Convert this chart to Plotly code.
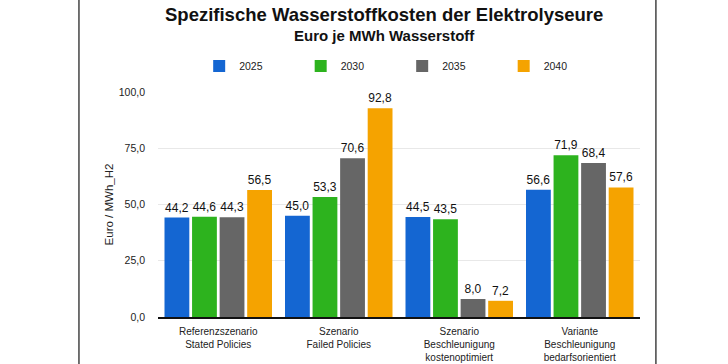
import plotly.graph_objects as go

categories = ["Referenzszenario<br>Stated Policies", "Szenario<br>Failed Policies",
              "Szenario<br>Beschleunigung<br>kostenoptimiert", "Variante<br>Beschleunigung<br>bedarfsorientiert"]
years = ["2025", "2030", "2035", "2040"]
v2025 = [44.2, 45.0, 44.5, 56.6]
v2030 = [44.6, 53.3, 43.5, 71.9]
v2035 = [44.3, 70.6, 8.0, 68.4]
v2040 = [56.5, 92.8, 7.2, 57.6]
series = [v2025, v2030, v2035, v2040]
colors = ["#1466d2", "#2db31e", "#666666", "#f5a300"]
yticks = [0, 25, 50, 75, 100]

FONT = "Liberation Sans, Arial, Helvetica, sans-serif"

fig = go.Figure()
for name, vals, col in zip(years, series, colors):
    fig.add_trace(go.Bar(
        x=categories, y=vals, name=name, marker=dict(color=col, line=dict(width=0)),
        text=[f"{v:.1f}".replace(".", ",") for v in vals], textposition="outside",
        textfont=dict(size=12, color="#111111", family=FONT), cliponaxis=False,
    ))

fig.update_layout(
    width=728, height=364,
    margin=dict(l=158, r=88, t=92, b=47, autoexpand=False),
    paper_bgcolor="white", plot_bgcolor="white",
    font=dict(family=FONT, color="#222222"),
    separators=",.",
    barmode="group", bargap=0.085, bargroupgap=0.1,
    showlegend=True,
    legend=dict(orientation="h", x=0.5066, xanchor="center", y=1.1156, yanchor="middle",
                font=dict(size=10.5, color="#222222"), entrywidth=56.5, entrywidthmode="pixels",
                traceorder="normal"),
    annotations=[
        dict(text="<b>Spezifische Wasserstoffkosten der Elektrolyseure</b>", x=0.469, y=1.343,
             xref="paper", yref="paper", showarrow=False, yanchor="middle",
             font=dict(size=18.5, color="#111111")),
        dict(text="<b>Euro je MWh Wasserstoff</b>", x=0.469, y=1.253,
             xref="paper", yref="paper", showarrow=False, yanchor="middle",
             font=dict(size=15, color="#111111")),
    ],
    shapes=[
        dict(type="line", xref="paper", yref="paper", x0=-0.164, x1=-0.164, y0=-0.3, y1=1.5,
             line=dict(color="#444444", width=1.5)),
        dict(type="line", xref="paper", yref="paper", x0=1.033, x1=1.033, y0=-0.3, y1=1.5,
             line=dict(color="#444444", width=1.5)),
    ],
)
fig.update_yaxes(range=[0, 100], tickvals=yticks, tickformat=".1f", gridcolor="#e8e8e8",
                 showline=False, zeroline=False, tickfont=dict(size=10.5, color="#222222"),
                 ticks="", ticklabelstandoff=12, automargin=False,
                 title=dict(text="Euro / MWh_H2", font=dict(size=11.5, color="#222222"), standoff=2))
fig.update_xaxes(showline=True, linecolor="#111111", linewidth=1.5, tickfont=dict(size=10, color="#222222"),
                 ticks="", showgrid=False, automargin=False, ticklabelstandoff=4)

fig.write_html("out.html", config={"displayModeBar": False},
               post_script="document.body.style.margin='0';document.body.style.overflow='hidden';")
